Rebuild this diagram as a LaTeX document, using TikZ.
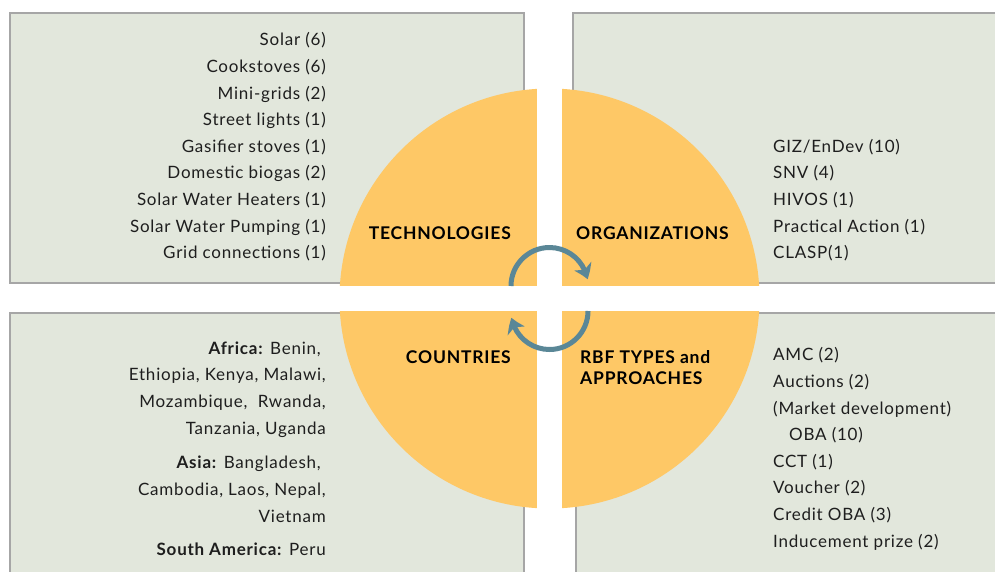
\documentclass[tikz,border=0pt]{standalone}
\usepackage{fontspec}
\setmainfont{Lato}[LetterSpace=4.5]
\usetikzlibrary{arrows.meta,bending,positioning}

\definecolor{panelfill}{HTML}{E2E7DC}
\definecolor{paneledge}{HTML}{A6A6A6}
\definecolor{quartfill}{HTML}{FEC866}
\definecolor{cyclecol}{HTML}{5A8797}
\definecolor{inktext}{HTML}{1E1E1E}

\begin{document}
\begin{tikzpicture}[x=1pt, y=-1pt,
    panel/.style={fill=panelfill, draw=paneledge, line width=1.2pt},
    list/.style={inner sep=0pt, text=inktext, font=\fontsize{17}{26.6}\selectfont},
    rlist/.style={list, align=right, anchor=north east},
    llist/.style={list, align=left, anchor=north west},
    head/.style={inner sep=0pt, text=black, font=\fontsize{17.5}{21}\selectfont\bfseries},
    cycle/.style={draw=cyclecol, line width=5pt, -{Stealth[length=14pt, width=19pt, inset=4pt, bend]}}
  ]
    \useasboundingbox (0,0) rectangle (995,571);
    \clip (0,0) rectangle (995,571);

    % four panels
    \draw [panel] (10,13) rectangle (524,283);
    \draw [panel] (573,13) rectangle (1010,283);
    \draw [panel] (10,313) rectangle (524,590);
    \draw [panel] (576,313) rectangle (1010,590);

    % disc cut in four
    \coordinate (hub) at (549.5,298.5);
    \node [circle, fill=quartfill, inner sep=0pt, minimum size=420pt] (disc) at (hub) {};
    \fill [white] (537,80) rectangle (562,520);
    \fill [white] (330,286) rectangle (770,311);

    \node [head, anchor=east] (tech) at (511,233) {TECHNOLOGIES};
    \node [head, anchor=west] (orgs) at (576,233) {ORGANIZATIONS};
    \node [head, anchor=east] (ctry) at (511,357) {COUNTRIES};
    \node [head, anchor=west, align=left] (rbf) at (580,367.5) {RBF TYPES and\\APPROACHES};

    % cycle arrows
    \draw [cycle] (511,286) arc [start angle=180, end angle=350, radius=38.5];
    \draw [cycle] (588,311) arc [start angle=0, end angle=170, radius=38.5];

    % lists
    \node [rlist] (techlist) at (326,32.5) {Solar (6)\\Cookstoves (6)\\Mini-grids (2)\\Street lights (1)\\Gasifier stoves (1)\\Domestic biogas (2)\\Solar Water Heaters (1)\\Solar Water Pumping (1)\\Grid connections (1)};
    \node [llist] (orglist) at (773,139) {GIZ/EnDev (10)\\SNV (4)\\HIVOS (1)\\Practical Action (1)\\CLASP(1)};
    \node [rlist] (africa) at (326,341.5) {\textbf{Africa:} Benin,\hspace*{5pt}\\Ethiopia, Kenya, Malawi,\hspace*{5pt}\\Mozambique,\ \ Rwanda,\\Tanzania, Uganda};
    \node [rlist] (asia) at (326,456) {\textbf{Asia:} Bangladesh,\hspace*{5pt}\\Cambodia, Laos, Nepal,\hspace*{5pt}\\Vietnam};
    \node [rlist] (samerica) at (326,543) {\textbf{South America:} Peru};
    \node [llist] (rbflist) at (773,347.5) {AMC (2)\\Auctions (2)\\(Market development)\\\hspace*{16pt}OBA (10)\\CCT (1)\\Voucher (2)\\Credit OBA (3)\\Inducement prize (2)};
\end{tikzpicture}
\end{document}
